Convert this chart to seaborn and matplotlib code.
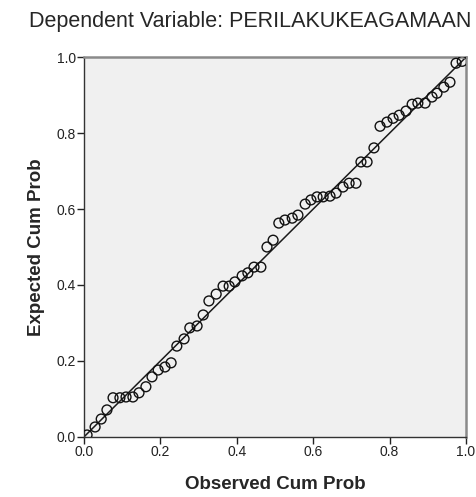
import numpy as np
import pandas as pd
import seaborn as sns
from matplotlib import pyplot as plt

# observed vs expected cumulative probability
observed_cum_prob = [0.008, 0.029, 0.045, 0.060, 0.076, 0.094, 0.110, 0.128, 0.144, 0.162,
                     0.178, 0.194, 0.212, 0.228, 0.243, 0.262, 0.277, 0.296, 0.312, 0.327,
                     0.346, 0.364, 0.380, 0.395, 0.414, 0.429, 0.445, 0.463, 0.479, 0.495,
                     0.510, 0.526, 0.545, 0.560, 0.579, 0.594, 0.610, 0.626, 0.644, 0.660,
                     0.678, 0.694, 0.712, 0.725, 0.741, 0.759, 0.775, 0.793, 0.809, 0.825,
                     0.843, 0.859, 0.874, 0.893, 0.911, 0.924, 0.942, 0.958, 0.974, 0.990]
expected_cum_prob = [0.005, 0.026, 0.047, 0.071, 0.103, 0.103, 0.105, 0.105, 0.116, 0.132,
                     0.158, 0.176, 0.184, 0.195, 0.239, 0.258, 0.287, 0.292, 0.321, 0.358,
                     0.376, 0.397, 0.397, 0.408, 0.424, 0.432, 0.447, 0.447, 0.500, 0.518,
                     0.563, 0.571, 0.576, 0.584, 0.613, 0.624, 0.632, 0.632, 0.634, 0.642,
                     0.658, 0.668, 0.668, 0.724, 0.724, 0.761, 0.818, 0.829, 0.839, 0.847,
                     0.858, 0.876, 0.879, 0.879, 0.895, 0.905, 0.921, 0.934, 0.984, 0.989]
ref_line = [0.0, 1.0]
ticks = [0.0, 0.2, 0.4, 0.6, 0.8, 1.0]
tick_labels = ['0.0', '0.2', '0.4', '0.6', '0.8', '1.0']

df = pd.DataFrame({'Observed Cum Prob': observed_cum_prob,
                   'Expected Cum Prob': expected_cum_prob})

sns.set_style('ticks')
plt.rcParams['font.family'] = ['Liberation Sans', 'DejaVu Sans']

fig = plt.figure(figsize=(4.76, 4.97), dpi=100, facecolor='white')
ax = fig.add_axes([0.1765, 0.121, 0.8025, 0.764])
ax.set_facecolor('#f0f0f0')

sns.lineplot(x=ref_line, y=ref_line, color='#1a1a1a', linewidth=1.1, ax=ax)
sns.scatterplot(data=df, x='Observed Cum Prob', y='Expected Cum Prob',
                marker='o', s=50, facecolor='none', edgecolor='#111111',
                linewidth=1.0, ax=ax, zorder=3)

ax.set_xlim(0, 1)
ax.set_ylim(0, 1)
ax.set_xticks(ticks)
ax.set_xticklabels(tick_labels)
ax.set_yticks(ticks)
ax.set_yticklabels(tick_labels)
ax.tick_params(direction='out', length=5, width=1, colors='#222222',
               labelsize=10, labelcolor='#222222', pad=1)

for side in ['left', 'bottom']:
    ax.spines[side].set_color('#333333')
    ax.spines[side].set_linewidth(1)
for side in ['top', 'right']:
    ax.spines[side].set_visible(True)
    ax.spines[side].set_color('#8a8a8a')
    ax.spines[side].set_linewidth(1.8)

ax.set_xlabel('Observed Cum Prob', fontsize=13.5, fontweight='bold', labelpad=12)
ax.set_ylabel('Expected Cum Prob', fontsize=13.5, fontweight='bold', labelpad=8)
fig.suptitle('Dependent Variable: PERILAKUKEAGAMAAN', fontsize=15.5, x=0.525, y=0.978)

fig.savefig('out.png', dpi=100, facecolor='white')
